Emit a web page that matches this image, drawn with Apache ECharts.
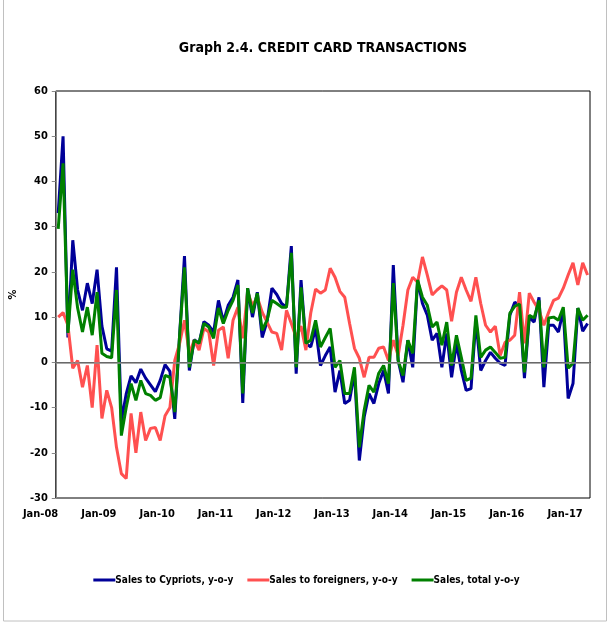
<!DOCTYPE html>
<html>
<head>
<meta charset="utf-8">
<script src="https://cdn.jsdelivr.net/npm/echarts@6/dist/echarts.min.js"></script>
<style>
  html, body { margin: 0; padding: 0; background: #fff; }
  #chart { width: 613px; height: 629px; }
</style>
</head>
<body>
<div id="chart"></div>
<script>
const myChart = echarts.init(document.getElementById("chart"));

// monthly, Jan-08 .. Feb-17
const months = ["Jan", "Feb", "Mar", "Apr", "May", "Jun", "Jul", "Aug", "Sep", "Oct", "Nov", "Dec"];
const categories = [];
for (let y = 8; y <= 17; y++) {
  for (let m = 0; m < 12; m++) {
    if (y === 17 && m > 1) break;
    categories.push(months[m] + "-" + String(y).padStart(2, "0"));
  }
}

const cypriots = [
  33, 50, 5.5, 27, 16, 11.5, 17.5, 13, 20.5, 8, 3, 2.5,
  21, -13, -7, -3, -4.5, -1.5, -3.5, -5, -6.5, -4, -0.5, -2,
  -12.5, 6, 23.5, -1.8, 5, 4.2, 9, 8.2, 6.7, 13.7, 9, 12.6,
  14.4, 18.2, -9, 16.4, 10, 15.5, 5.5, 9, 16.4, 15, 13, 12.2,
  25.7, -2.5, 18.2, 4.2, 3.4, 7.5, -0.7, 1.5, 3.4, -6.6, -1.8, -9.1,
  -8.4, -2.2, -21.7, -12.1, -6.9, -9.1, -4.7, -1.8, -6.9, 21.5, 0.4, -4.4,
  4.9, -1.1, 18.2, 13, 10.4, 4.9, 6.4, -1.1, 6.4, -3.3, 4.2, -1.8,
  -6.2, -5.8, 9.3, -1.8, 0.4, 2.2, 0.9, -0.2, -0.7, 10.4, 13.3, 12.6,
  -3.5, 10, 8.9, 14.4, -5.5, 8.2, 8.2, 6.7, 11.5, -8, -4.7, 12,
  6.9, 8.6
];

const foreigners = [
  10, 11, 8.2, -1.3, 0.4, -5.5, -0.7, -10, 3.8, -12.4, -6.2, -10,
  -18.8, -24.6, -25.7, -11.3, -20, -11, -17.3, -14.6, -14.4, -17.3, -11.8, -10,
  0.4, 4.2, 9.3, 2, 4.9, 2.7, 7.5, 6.7, -0.7, 7.1, 7.8, 0.9,
  9.3, 12.2, 5.3, 15.5, 12.6, 14.4, 11.1, 8.9, 6.7, 6.4, 2.7, 11.5,
  8.6, 5.5, 8, 2.7, 10.9, 16.2, 15.3, 16, 20.8, 18.8, 15.7, 14.4,
  8.6, 3.1, 0.9, -3.3, 1.1, 1.1, 3.1, 3.4, 0.4, 4.9, 1.5, 8.2,
  16, 18.8, 17.7, 23.3, 19.3, 14.9, 16, 16.9, 16, 9.1, 15.5, 18.8,
  16, 13.5, 18.8, 13, 8.2, 6.7, 8, 1.5, 4.4, 4.9, 6, 15.5,
  4.2, 15.3, 13.3, 11.5, 8.2, 11.1, 13.7, 14.2, 16.4, 19.3, 22, 17.1,
  22, 19.3
];

const total = [
  29.5, 44, 6.5, 20.5, 12, 6.7, 12.2, 6, 15.5, 2, 1.3, 1,
  16, -16.2, -10, -4.7, -8.4, -4, -6.9, -7.3, -8.4, -7.8, -2.9, -3.3,
  -11, 6, 21, -1.1, 4.9, 4.2, 8.6, 7.8, 5.3, 12, 8.6, 11.5,
  13.7, 17.1, -6.9, 16.4, 10.9, 15.3, 7.1, 9.3, 13.7, 13, 12.2, 12.2,
  24.2, -1.1, 16.6, 4.2, 4.9, 9.3, 3.4, 5.5, 7.5, -1.1, 0.4, -6.9,
  -6.9, -1.1, -18.8, -10.6, -5.1, -6.6, -2.4, -0.7, -4.7, 17.5, 0.4, -2.9,
  4.9, 2, 18.2, 14.4, 12.6, 7.8, 8.9, 3.8, 8.9, -0.7, 6, 1.1,
  -4, -3.5, 10.4, 1.1, 2.7, 3.4, 2.2, 0.9, 1.1, 10.9, 12.4, 12.9,
  -2.2, 10.4, 9.8, 13.7, -1.1, 9.8, 10, 9.3, 12.2, -1.3, -0.2, 12,
  9.3, 10.4
];

const font = "'Liberation Sans Narrow', 'DejaVu Sans Condensed', sans-serif";

let option = {
  animation: false,
  textStyle: { fontFamily: font },
  title: {
    text: "Graph 2.4. CREDIT CARD TRANSACTIONS",
    left: 318,
    textAlign: "center",
    top: 36,
    textStyle: { fontFamily: font, fontSize: 14, fontWeight: "bold", color: "#000" }
  },
  legend: {
    bottom: 39,
    left: "center",
    itemWidth: 22,
    itemHeight: 3,
    itemGap: 14,
    icon: "rect",
    textStyle: { fontFamily: font, fontSize: 10, fontWeight: "bold", color: "#000", padding: [0, 0, 0, -5] },
    data: ["Sales to Cypriots, y-o-y", "Sales to foreigners, y-o-y", "Sales, total y-o-y"]
  },
  graphic: [{
    type: "rect",
    shape: { x: 3.5, y: -2, width: 603, height: 623 },
    style: { fill: "none", stroke: "#c0c0c0", lineWidth: 1 }
  }],
  grid: {
    left: 45,
    right: 23,
    top: 91,
    bottom: 131,
    show: true,
    borderColor: "#000",
    borderWidth: 1
  },
  xAxis: {
    type: "category",
    data: categories,
    boundaryGap: true,
    axisLine: { lineStyle: { color: "#000" } },
    axisTick: { show: false },
    axisLabel: {
      interval: 11,
      align: "right",
      margin: 11,
      fontFamily: font,
      fontSize: 11,
      fontWeight: "bold",
      color: "#000"
    }
  },
  yAxis: {
    type: "value",
    name: "%",
    nameLocation: "middle",
    nameRotate: 90,
    nameGap: 24,
    nameTextStyle: { fontFamily: font, fontSize: 11, fontWeight: "bold", color: "#000" },
    min: -30,
    max: 60,
    interval: 10,
    axisLine: { show: true, lineStyle: { color: "#888" } },
    axisTick: { show: true, inside: false, length: 4, lineStyle: { color: "#888" } },
    splitLine: { show: false },
    axisLabel: { fontFamily: font, fontSize: 11, fontWeight: "bold", color: "#000", margin: 8 }
  },
  series: [
    {
      name: "Sales to Cypriots, y-o-y",
      type: "line",
      data: cypriots,
      color: "#000099",
      symbol: "none",
      lineStyle: { width: 3 },
      markLine: {
        silent: true,
        symbol: "none",
        label: { show: false },
        lineStyle: { color: "#8c8c8c", type: "solid", width: 1.5 },
        data: [{ yAxis: 0 }]
      }
    },
    {
      name: "Sales to foreigners, y-o-y",
      type: "line",
      data: foreigners,
      color: "#ff5050",
      symbol: "none",
      lineStyle: { width: 3 }
    },
    {
      name: "Sales, total y-o-y",
      type: "line",
      data: total,
      color: "#008000",
      symbol: "none",
      lineStyle: { width: 3 }
    }
  ]
};

myChart.setOption(option);
</script>
</body>
</html>
